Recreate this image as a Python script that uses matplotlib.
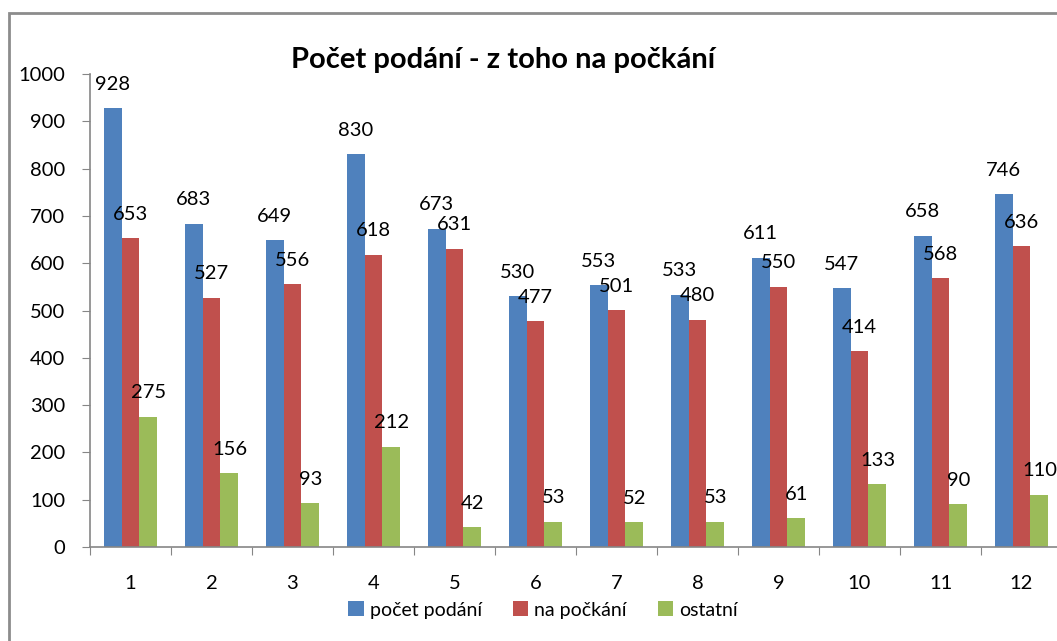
import matplotlib
matplotlib.use("Agg")
import matplotlib.pyplot as plt
from matplotlib.patches import Rectangle
import numpy as np

plt.rcParams['font.family'] = ['Lato', 'DejaVu Sans']

mesice = ['1', '2', '3', '4', '5', '6', '7', '8', '9', '10', '11', '12']
pocet_podani = [928, 683, 649, 830, 673, 530, 553, 533, 611, 547, 658, 746]
na_pockani = [653, 527, 556, 618, 631, 477, 501, 480, 550, 414, 568, 636]
ostatni = [275, 156, 93, 212, 42, 53, 52, 53, 61, 133, 90, 110]

series = [
    ('počet podání', pocet_podani, '#4F81BD'),
    ('na počkání', na_pockani, '#C0504D'),
    ('ostatní', ostatni, '#9BBB59'),
]

W, H = 1057, 641
fig = plt.figure(figsize=(W / 100, H / 100), dpi=100)

# chart frame (cut off at right and bottom like the screenshot)
fig.patches.append(Rectangle((9 / W, -0.1), 1.2, 1 - 13 / H + 0.1, transform=fig.transFigure,
                             fill=False, edgecolor='#8c8c8c', linewidth=2))

ax = fig.add_axes([90 / W, 1 - 547 / H, 972 / W, 473 / H])

x = np.arange(len(mesice))
width = 0.222
for k, (name, vals, col) in enumerate(series):
    pos = x + (k - 1) * width
    ax.bar(pos, vals, width, color=col, label=name, edgecolor='none')
    for px, v in zip(pos, vals):
        ax.annotate(str(v), (px, v), xytext=(0, 24), textcoords='offset pixels',
                    ha='center', va='center', fontsize=14.5)

ax.set_xlim(-0.5, len(mesice) - 0.5)
ax.set_ylim(0, 1000)
ax.set_yticks(range(0, 1001, 100))
ax.set_xticks(np.arange(-0.5, len(mesice), 1.0))
ax.set_xticklabels([])
ax.set_xticks(x, minor=True)
ax.set_xticklabels(mesice, minor=True)

for s in ['top', 'right']:
    ax.spines[s].set_visible(False)
for s in ['left', 'bottom']:
    ax.spines[s].set_color('#868686')
    ax.spines[s].set_linewidth(1.2)

ax.tick_params(axis='y', direction='out', length=6, color='#868686', pad=12, labelsize=14.5)
ax.tick_params(axis='x', which='major', direction='out', length=6, color='#868686')
ax.tick_params(axis='x', which='minor', length=0, pad=20, labelsize=14.5)

fig.text(503 / W, 1 - 60 / H, 'Počet podání - z toho na počkání', ha='center', va='center',
         fontsize=21, fontweight='bold')

fig.legend(loc='center', bbox_to_anchor=(543 / W, 1 - 610 / H), ncol=3, frameon=False,
           fontsize=14, handlelength=0.8, handleheight=0.8, handletextpad=0.3, columnspacing=1.6)

fig.savefig('out.png', dpi=100)
